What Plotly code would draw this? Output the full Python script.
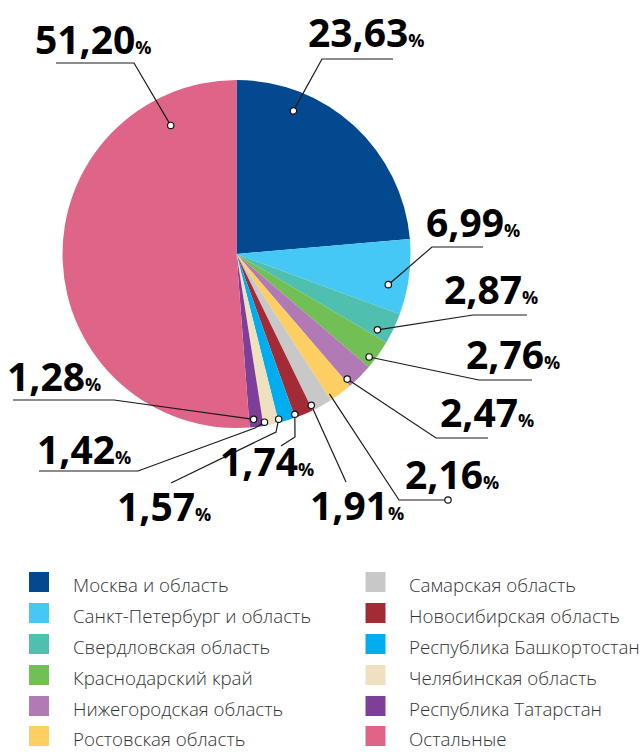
import math
import plotly.graph_objects as go

# ---------------- data ----------------
regions = [
    "Москва и область", "Санкт-Петербург и область", "Свердловская область",
    "Краснодарский край", "Нижегородская область", "Ростовская область",
    "Самарская область", "Новосибирская область", "Республика Башкортостан",
    "Челябинская область", "Республика Татарстан", "Остальные",
]
shares = [23.63, 6.99, 2.87, 2.76, 2.47, 2.16, 1.91, 1.74, 1.57, 1.42, 1.28, 51.20]

# ---------------- style ----------------
colors = ["#02498f", "#45c8f5", "#4fc0b0", "#72bf55", "#b27ab5", "#fdcf63",
          "#c8c8c8", "#a32b36", "#00aeef", "#efe0c0", "#7e3f98", "#de6488"]

W, H = 644, 752
CX, CY, R = 236.5, 254.0, 174.0

# label layout (pixel positions: left edge, baseline)
lab_x = [310, 428, 446, 468, 442, 407, 312, 222, 119, 39, 9, 37]
lab_base = [46, 236, 303, 368, 426, 488, 519, 475, 520, 463, 390, 53]
# leader routes after the slice anchor
routes = [
    [(322, 59), (393, 59)],
    [(432, 247), (483, 247)],
    [(473, 315), (527, 315)],
    [(479, 380), (532, 380)],
    [(436, 438), (488, 438)],
    [(399, 500), (448, 500)],
    [(346, 482)],
    [(295, 437), (281, 446)],
    [(276, 432), (171, 483)],
    [(255, 428), (138, 471), (39, 471)],
    [(114, 400), (13, 400)],
    [(134, 63), (56, 63)],
]
anchor_f = [0.255, 0.65, 0.78, 0.73, 0.9, 0.9, 0.95, 0.95, 0.95, 0.9, 0.65, 0.853]
anchor_r = [0.885, 0.89, 0.92, 0.965, 0.96, 0.965, 0.97, 0.98, 0.98, 0.98, 0.955, 0.83]
dot_at_end = [False, False, False, False, False, True, False, False, False, False, False, False]

NUM_SIZE, PCT_SIZE = 39, 18
LEG_SIZE = 18.7

fig = go.Figure()

fig.add_trace(go.Pie(
    labels=regions, values=shares, sort=False, direction="clockwise", rotation=0,
    marker=dict(colors=colors, line=dict(width=0)),
    textinfo="none", hoverinfo="label+percent", showlegend=False,
    domain=dict(x=[(CX - R) / W, (CX + R) / W], y=[1 - (CY + R) / H, 1 - (CY - R) / H]),
))

shapes = []
annotations = []
total = sum(shares)
start = 0.0
LINE = dict(color="#1a1a1a", width=1.2)


def dot(x, y):
    return dict(type="circle", xref="x", yref="y", x0=x - 3.2, x1=x + 3.2, y0=y - 3.2, y1=y + 3.2,
                line=dict(color="#111", width=1.2), fillcolor="white", layer="above")


for i, v in enumerate(shares):
    span = v / total * 360.0
    th = math.radians(start + anchor_f[i] * span)
    start += span
    r = anchor_r[i] * R
    ax, ay = CX + r * math.sin(th), CY - r * math.cos(th)
    pts = [(ax, ay)] + routes[i]
    path = "M " + " L ".join(f"{px:.1f},{py:.1f}" for px, py in pts)
    shapes.append(dict(type="path", xref="x", yref="y", path=path, line=LINE, layer="above"))
    if dot_at_end[i]:
        shapes.append(dot(*routes[i][-1]))
    else:
        shapes.append(dot(ax, ay))
    num = f"{v:.2f}".replace(".", ",")
    annotations.append(dict(
        xref="x", yref="y", x=lab_x[i] - 2, y=lab_base[i] - 15, xanchor="left", yanchor="middle",
        showarrow=False, borderpad=0, borderwidth=0,
        text=f"{num}<span style='font-size:{PCT_SIZE}px'>%</span>",
        font=dict(family="Open Sans", size=NUM_SIZE, color="#000", weight=700),
    ))

# two-column legend
leg_col_x = [39, 375.5]
leg_text_x = [74, 410]
leg_row_y = [582, 613, 644, 675, 706, 736]
lx, ly = [], []
for i, name in enumerate(regions):
    c, rr = divmod(i, 6)
    lx.append(leg_col_x[c])
    ly.append(leg_row_y[rr])
    annotations.append(dict(
        xref="x", yref="y", x=leg_text_x[c] - 1, y=leg_row_y[rr] + 2, xanchor="left", yanchor="middle",
        showarrow=False, text=name, borderpad=0, borderwidth=0,
        font=dict(family="Open Sans", size=LEG_SIZE, color="#333", weight=300),
    ))
fig.add_trace(go.Scatter(
    x=lx, y=ly, mode="markers", hoverinfo="text", text=regions, showlegend=False,
    marker=dict(symbol="square", size=20, color=colors, line=dict(width=0)),
))

fig.update_layout(
    width=W, height=H, margin=dict(l=0, r=0, t=0, b=0),
    paper_bgcolor="white", plot_bgcolor="white",
    xaxis=dict(range=[0, W], visible=False, domain=[0, 1], fixedrange=True),
    yaxis=dict(range=[H, 0], visible=False, domain=[0, 1], fixedrange=True),
    shapes=shapes, annotations=annotations, showlegend=False,
)

fig.write_html("out.html", config={"displayModeBar": False},
               post_script="document.body.style.margin='0';")
